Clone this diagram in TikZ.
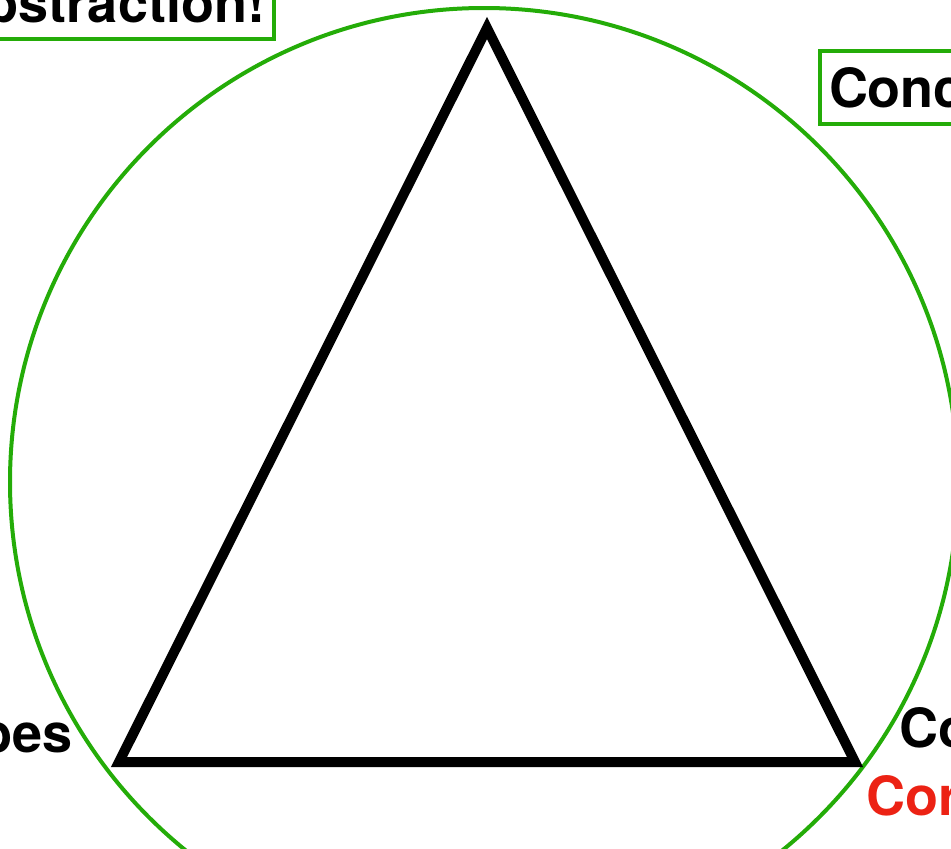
\documentclass[tikz,border=0pt]{standalone}
\usepackage{fontspec}
\setmainfont{TeX Gyre Heros}
\definecolor{ringgreen}{RGB}{36,172,8}
\definecolor{notered}{RGB}{236,34,20}

\begin{document}
\begin{tikzpicture}[x=1pt, y=-1pt,
  lbl/.style={font=\fontsize{54}{60}\selectfont\bfseries, inner sep=0pt},
  tagbox/.style={lbl, draw=ringgreen, line width=4pt, inner xsep=9pt, inner ysep=16pt}]
\useasboundingbox (0,0) rectangle (951,849);
\draw[ringgreen, line width=4pt] (484,482) circle (474);
\coordinate (apex) at (487,28);
\coordinate (left) at (119,762);
\coordinate (right) at (855,762);
\draw[line width=10pt, miter limit=10] (apex) -- (left) -- (right) -- cycle;
\node[tagbox, anchor=south east] (abstr) at (276,41) {bstraction!};
\node[tagbox, anchor=north west] (conc) at (818,49) {Conc};
\node[lbl, anchor=base east] (leftlbl) at (73,752) {bes};
\node[lbl, anchor=base west] (rightlbl) at (899,747) {Co};
\node[lbl, anchor=base west, text=notered] (redlbl) at (866,815) {Cor};
\end{tikzpicture}
\end{document}
